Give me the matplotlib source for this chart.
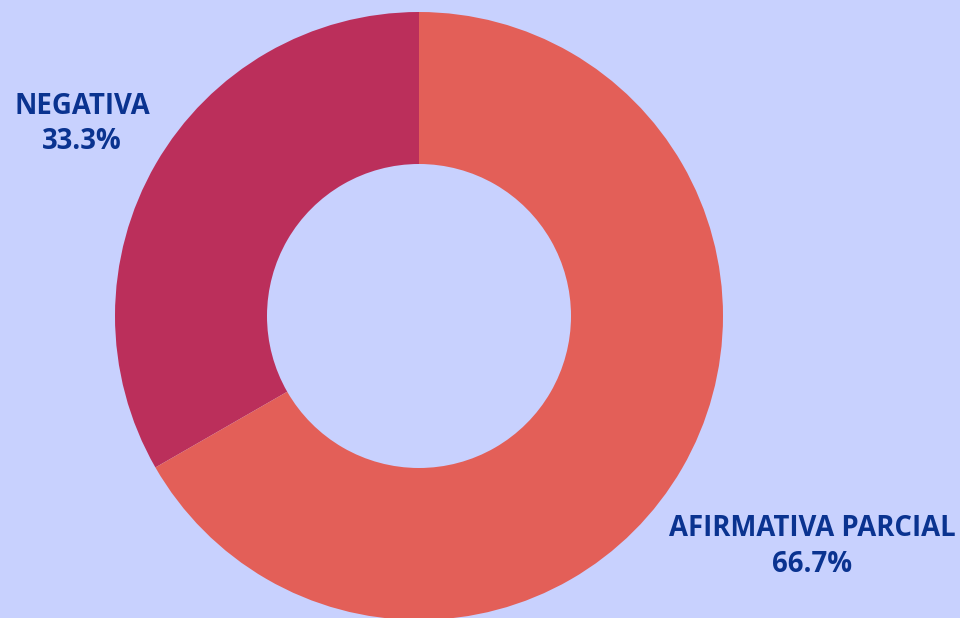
import numpy as np
import matplotlib.pyplot as plt

labels = ["NEGATIVA", "AFIRMATIVA PARCIAL"]
shares = [33.3, 66.7]
colors = ["#BB2F5B", "#E35F58"]
label_dist = [1.28, 1.495]

bg = "#C8D1FE"
txt = "#0A3390"

fig = plt.figure(figsize=(9.6, 6.18), dpi=100, facecolor=bg)
ax = fig.add_axes([0, 0, 1, 1])
ax.set_facecolor(bg)

cx, cy, r = 419, 302, 304
wedges, _ = ax.pie(shares, colors=colors, startangle=90, counterclock=True,
                   center=(cx, cy), radius=r, frame=True,
                   wedgeprops=dict(width=r / 2, linewidth=0))
ax.set_xlim(0, 960)
ax.set_ylim(0, 618)
ax.set_aspect("equal")
ax.axis("off")

for w, lab, val, d in zip(wedges, labels, shares, label_dist):
    mid = np.deg2rad((w.theta1 + w.theta2) / 2)
    x = cx + d * r * np.cos(mid)
    y = cy + d * r * np.sin(mid) - 3
    ax.text(x, y, f"{lab}\n{val:.1f}%", ha="center", va="center",
            fontsize=19.8, fontweight="bold", color=txt,
            family=["Open Sans", "DejaVu Sans"], linespacing=1.3)

fig.savefig("out.png", dpi=100, facecolor=bg)
